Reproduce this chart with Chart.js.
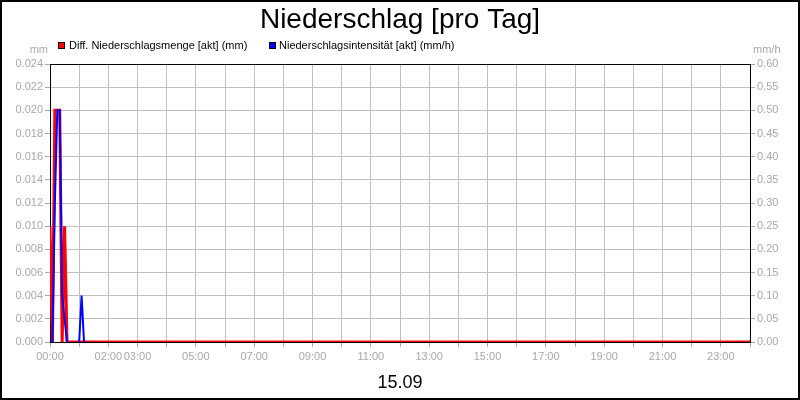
<!DOCTYPE html>
<html><head><meta charset="utf-8">
<script src="https://cdn.jsdelivr.net/npm/chart.js@4.4.0/dist/chart.umd.min.js"></script>
<style>html,body{margin:0;padding:0;background:#fff}#wrap{width:800px;height:400px;position:relative}canvas{display:block}</style>
</head><body><div id="wrap"><canvas id="c" width="800" height="400"></canvas></div>
<script>
const chartTitle = 'Niederschlag [pro Tag]';
const dateLabel = '15.09';
const seriesNames = ['Diff. Niederschlagsmenge [akt] (mm)', 'Niederschlagsintensität [akt] (mm/h)'];
const seriesColors = ['#ff0000', '#0000ff'];
const leftUnit = 'mm';
const rightUnit = 'mm/h';
// times in minutes since 00:00
const amountTimes = [0, 5, 10, 15, 20, 25, 30, 35, 1440];
const amountValues = [0.010, 0, 0.020, 0.020, 0.020, 0, 0.010, 0, 0];
const intensityTimes = [0, 5, 10, 15, 20, 25, 30, 35, 45, 60, 65, 70];
const intensityValues = [0, 0, 0.3, 0.5, 0.5, 0.1, 0.05, 0, null, 0, 0.1, 0];
const hourLabels = [0, 2, 3, 5, 7, 9, 11, 13, 15, 17, 19, 21, 23];

const FONT = '"Liberation Sans", Arial, sans-serif';
const tickGray = '#a8a8a8';
const gridGray = '#c0c0c0';

function pts(ts, vs) { return ts.map((t, i) => ({ x: t, y: vs[i] })); }

const decor = {
  id: 'decor',
  afterDraw(chart) {
    const c = chart.ctx, a = chart.chartArea;
    c.save();
    // top border of plot
    c.strokeStyle = '#000'; c.lineWidth = 1;
    c.beginPath(); c.moveTo(a.left, Math.round(a.top) + 0.5); c.lineTo(a.right, Math.round(a.top) + 0.5); c.stroke();
    // title
    c.fillStyle = '#000'; c.textAlign = 'center'; c.textBaseline = 'alphabetic';
    c.font = '28px ' + FONT;
    c.fillText(chartTitle, 400, 28);
    // legend
    c.font = '11px ' + FONT; c.textAlign = 'left';
    const lx = [58, 269], tx = [69, 279];
    for (let i = 0; i < 2; i++) {
      c.fillStyle = seriesColors[i];
      c.fillRect(lx[i], 42, 7, 7);
      c.strokeStyle = '#000'; c.lineWidth = 1;
      c.strokeRect(lx[i] + 0.5, 42.5, 6, 6);
      c.fillStyle = '#000';
      c.fillText(seriesNames[i], tx[i], 49);
    }
    // units
    c.fillStyle = tickGray; c.font = '11px ' + FONT;
    c.textAlign = 'right'; c.fillText(leftUnit, 48, 53);
    c.textAlign = 'left'; c.fillText(rightUnit, 753, 53);
    // date
    c.fillStyle = '#000'; c.textAlign = 'center'; c.font = '18px ' + FONT;
    c.fillText(dateLabel, 400, 388);
    // outer frame
    c.strokeStyle = '#000'; c.lineWidth = 2;
    c.strokeRect(1, 1, 798, 398);
    c.restore();
  }
};

new Chart(document.getElementById('c'), {
  type: 'line',
  data: {
    datasets: [
      { label: seriesNames[0], data: pts(amountTimes, amountValues), yAxisID: 'y',
        borderColor: seriesColors[0], borderWidth: 3, pointRadius: 0, tension: 0, order: 1, clip: 0, fill: false },
      { label: seriesNames[1], data: pts(intensityTimes, intensityValues), yAxisID: 'y1',
        borderColor: seriesColors[1], borderWidth: 2, pointRadius: 0, tension: 0, order: 0, clip: 0, fill: false, spanGaps: false }
    ]
  },
  options: {
    responsive: false, animation: false, devicePixelRatio: 1,
    layout: { padding: { top: 64, left: 0, right: 0, bottom: 0 } },
    plugins: { legend: { display: false }, title: { display: false }, tooltip: { enabled: false } },
    scales: {
      x: {
        type: 'linear', min: 0, max: 1440,
        ticks: {
          stepSize: 60, autoSkip: false, maxRotation: 0, minRotation: 0, padding: 3,
          color: tickGray, font: { size: 11, family: FONT },
          callback: v => hourLabels.includes(v / 60) ? String(v / 60).padStart(2, '0') + ':00' : ''
        },
        grid: { color: gridGray, tickLength: 5, tickColor: tickGray, lineWidth: 1 },
        border: { color: '#000', width: 1 },
        afterFit: s => { s.height = 58; }
      },
      y: {
        position: 'left', min: 0, max: 0.024,
        ticks: { stepSize: 0.002, color: tickGray, padding: 2, font: { size: 11, family: FONT },
          callback: v => Number(v).toFixed(3) },
        grid: { color: gridGray, tickLength: 5, tickColor: tickGray },
        border: { color: '#000', width: 1 },
        afterFit: s => { s.width = 50; }
      },
      y1: {
        position: 'right', min: 0, max: 0.6,
        ticks: { stepSize: 0.05, color: tickGray, padding: 2, font: { size: 11, family: FONT },
          callback: v => Number(v).toFixed(2) },
        grid: { drawOnChartArea: false, tickLength: 5, tickColor: tickGray },
        border: { color: '#000', width: 1 },
        afterFit: s => { s.width = 50; }
      }
    }
  },
  plugins: [decor]
});
</script></body></html>
